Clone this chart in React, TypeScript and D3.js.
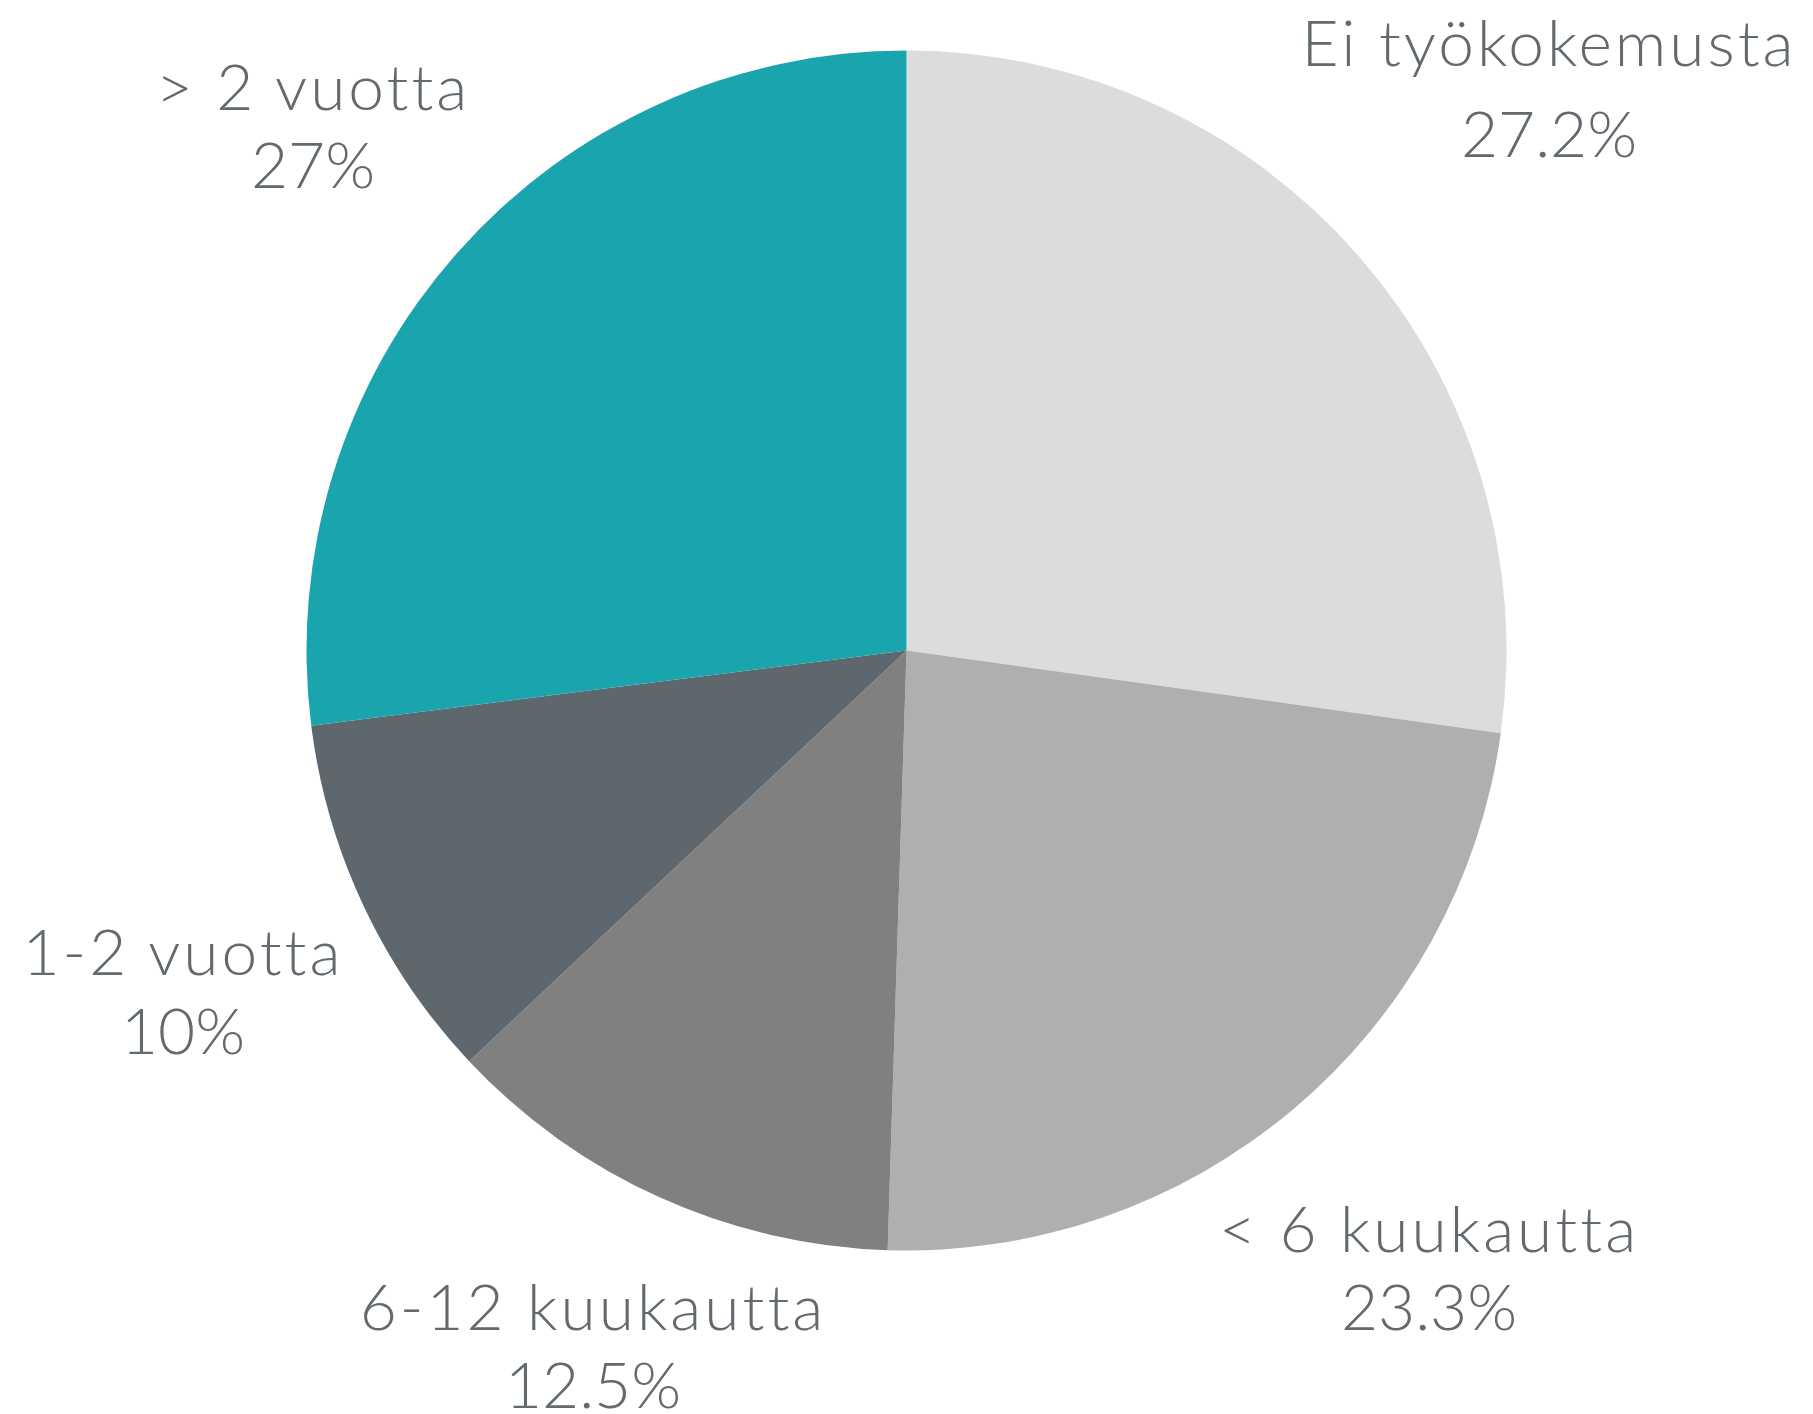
import React from "react";
import * as d3 from "d3";

const categories = ["Ei työkokemusta", "< 6 kuukautta", "6-12 kuukautta", "1-2 vuotta", "> 2 vuotta"];
const values = [27.2, 23.3, 12.5, 10, 27];
const valueLabels = ["27.2%", "23.3%", "12.5%", "10%", "27%"];
const colors = ["#dcdcdc", "#afafaf", "#808080", "#5f676e", "#1aa5ae"];

// label anchor layout (center x, first baseline y, line gap)
const labelLayout: [number, number, number][] = [
  [1549, 66, 91],
  [1429, 1252, 78],
  [593, 1330, 78],
  [183, 975, 79],
  [313, 110, 78],
];

const W = 1813;
const H = 1414;
const cx = 906.5;
const cy = 650.5;
const R = 600;

export default function App() {
  const pie = d3.pie<number>().sort(null).value((d) => d);
  const arcs = pie(values);
  const arcGen = d3.arc<d3.PieArcDatum<number>>().innerRadius(0).outerRadius(R);
  return (
    <svg width={W} height={H} style={{ position: "absolute", left: 0, top: 0, background: "#fff" }}>
      <g transform={`translate(${cx},${cy})`}>
        {arcs.map((a, i) => (
          <path key={i} d={arcGen(a) || ""} fill={colors[i]} stroke="none" />
        ))}
      </g>
      {categories.map((c, i) => {
        const [x, y, gap] = labelLayout[i];
        return (
          <text key={c} x={x} textAnchor="middle" fill="#62696f" fontFamily="Lato, 'Open Sans', sans-serif" fontWeight={300} fontSize={64}>
            <tspan x={x} y={y} letterSpacing={3}>{c}</tspan>
            <tspan x={x} y={y + gap}>{valueLabels[i]}</tspan>
          </text>
        );
      })}
    </svg>
  );
}
